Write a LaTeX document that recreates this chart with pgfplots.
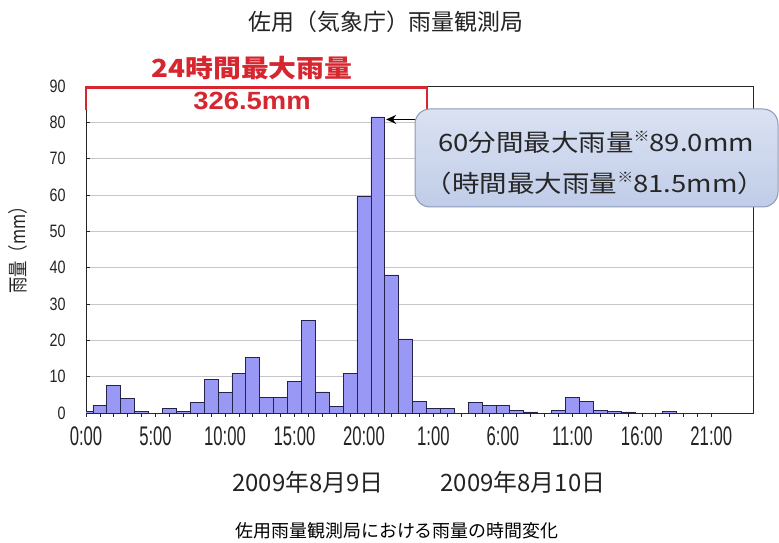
\documentclass[border=0pt]{standalone}
\usepackage{fontspec}
\setmainfont{Liberation Sans}
\newfontfamily\jp{Noto Sans CJK JP}
\usepackage{graphicx}
\usepackage{pgfplots}
\pgfplotsset{compat=1.18}
\usetikzlibrary{arrows.meta}
\definecolor{barfill}{RGB}{153,153,245}
\definecolor{baredge}{RGB}{35,35,75}
\definecolor{redbr}{RGB}{214,38,48}
\definecolor{txt}{RGB}{35,35,35}
\definecolor{boxtop}{RGB}{218,226,242}
\definecolor{boxbot}{RGB}{192,204,232}
\definecolor{boxedge}{RGB}{140,152,185}
\newcommand\xl[1]{\scalebox{0.62}[1]{#1}}
\newcommand\yl[1]{\scalebox{0.8}[1]{#1}}
\newcommand\kome{\raisebox{0.4em}{\fontsize{14}{14}\selectfont ※}}
\begin{document}
\begin{tikzpicture}[x=1bp,y=1bp]
\path[use as bounding box] (0,0) rectangle (779,543);
\begin{axis}[
 at={(86bp,130bp)}, anchor=south west,
 scale only axis, width=667bp, height=327bp,
 xmin=0, xmax=48, ymin=0, ymax=90,
 clip mode=individual,
 axis line style={black!85, line width=0.8bp},
 ytick={0,10,20,30,40,50,60,70,80,90},
 yticklabels={\yl{0},\yl{10},\yl{20},\yl{30},\yl{40},\yl{50},\yl{60},\yl{70},\yl{80},\yl{90}},
 xtick={0,5,10,15,20,25,30,35,40,45},
 xticklabels={\xl{0:00},\xl{5:00},\xl{10:00},\xl{15:00},\xl{20:00},\xl{1:00},\xl{6:00},\xl{11:00},\xl{16:00},\xl{21:00}},
 minor x tick num=4,
 tick align=inside, major tick length=4bp, minor tick length=4bp,
 xtick pos=bottom, ytick pos=left,
 ymajorgrids, grid style={gray!45, line width=0.8bp},
 tick style={black!85, line width=0.6bp},
 yticklabel style={font=\fontsize{18}{18}\selectfont, text=txt, xshift=-17bp},
 xticklabel style={font=\fontsize{27}{27}\selectfont, text=txt, yshift=-6bp},
 ybar, bar width=1, bar shift=0pt,
]
\addplot[fill=barfill, draw=baredge, line width=0.7bp] coordinates {
 (0,0.5) (1,2.0) (2,7.5) (3,4.0) (4,0.5) (6,1.3) (7,0.5) (8,3.0) (9,9.2)
 (10,5.7) (11,10.9) (12,15.3) (13,4.2) (14,4.2) (15,8.8) (16,25.4) (17,5.8)
 (18,1.9) (19,10.9) (20,59.5) (21,81.5) (22,38.0) (23,20.4) (24,3.3) (25,1.3)
 (26,1.3) (28,3.0) (29,2.0) (30,2.0) (31,0.8) (32,0.3) (34,0.7) (35,4.2)
 (36,3.3) (37,0.8) (38,0.5) (39,0.3) (42,0.4)
};
\draw[redbr, line width=2.2bp] (axis cs:0,83.5) -- (axis cs:0,89.6) -- (axis cs:24.53,89.6) -- (axis cs:24.53,83.5);
\draw[-{Stealth[length=10bp,width=9bp]}, line width=1.3bp] (axis cs:23.9,80.8) -- (axis cs:21.6,80.8);
\end{axis}
\node[text=txt, font=\jp\fontsize{23}{23}\selectfont] at (386,521) {佐用（気象庁）雨量観測局};
\node[text=redbr, font=\jp\bfseries\fontsize{25}{25}\selectfont] at (252,475) {\scalebox{1.12}[1]{24時間最大雨量}};
\node[text=redbr, font=\bfseries\fontsize{25}{25}\selectfont] at (252,442) {\scalebox{1.1}[1]{326.5mm}};
\draw[boxedge, line width=1bp, rounded corners=15bp, top color=boxtop, bottom color=boxbot] (415,336) rectangle (778,434);
\node[text=black!85, font=\jp\fontsize{24}{24}\selectfont] at (596,401) {\scalebox{1.15}[1]{60分間最大雨量\kome 89.0mm}};
\node[text=black!85, font=\jp\fontsize{24}{24}\selectfont] at (595,360) {\scalebox{1.15}[1]{（時間最大雨量\kome 81.5mm）}};
\node[rotate=90, font=\jp\fontsize{20}{20}\selectfont, text=txt] at (18,297) {\scalebox{0.82}[1]{雨量（mm）}};
\node[text=txt, font=\jp\fontsize{24}{24}\selectfont] at (308,61) {2009年8月9日};
\node[text=txt, font=\jp\fontsize{24}{24}\selectfont] at (523,61) {2009年8月10日};
\node[text=black, font=\jp\fontsize{18}{18}\selectfont] at (397,12) {佐用雨量観測局における雨量の時間変化};
\end{tikzpicture}
\end{document}
